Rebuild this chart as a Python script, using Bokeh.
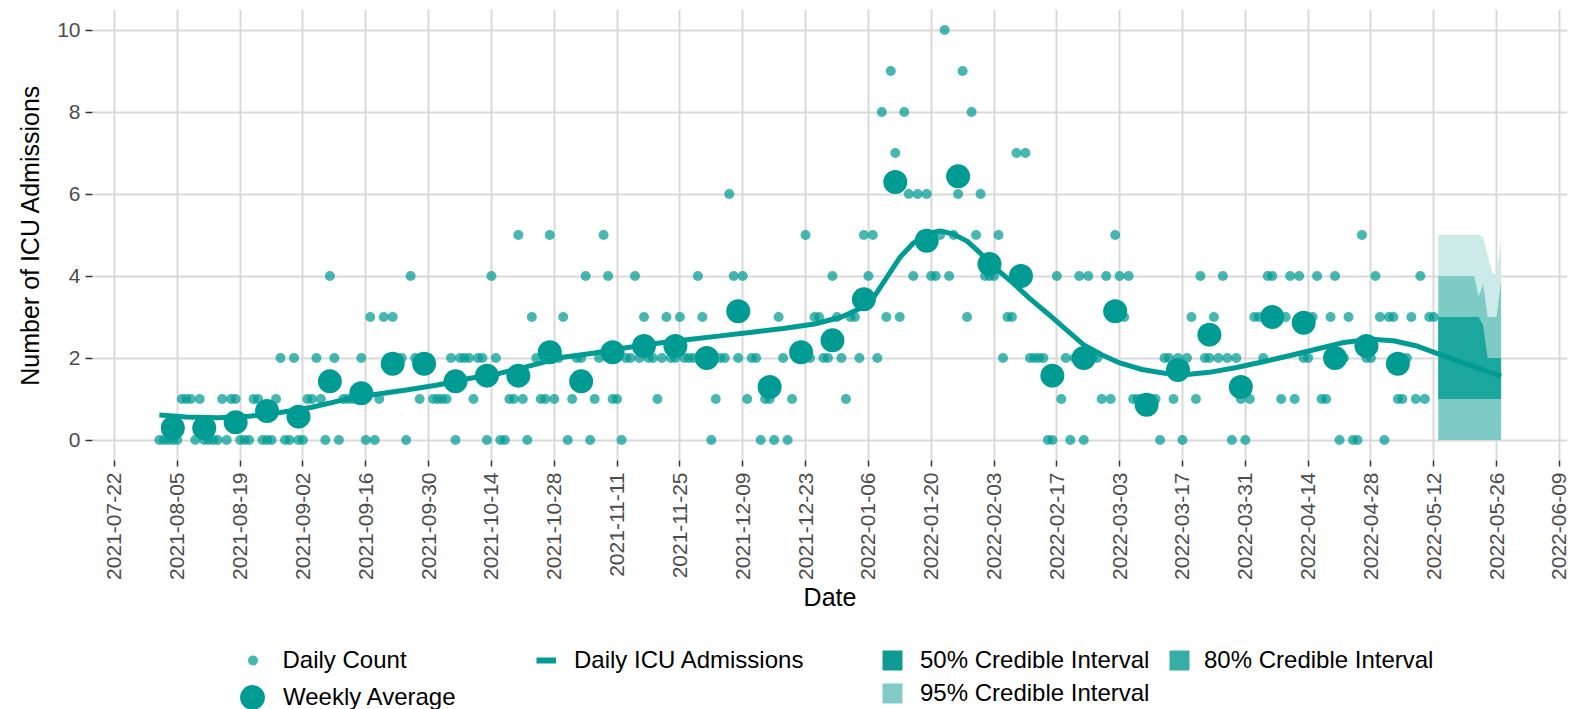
import math
import pandas as pd
from bokeh.plotting import figure
from bokeh.layouts import column
from bokeh.models import (Range1d, FixedTicker, DatetimeTickFormatter, Legend, LegendItem)
from bokeh.embed import file_html
from bokeh.resources import INLINE

# ---------------- data ----------------
daily_start = "2021-08-01"
daily_counts = [
    0, 0, 0, 0, 0, 1, 1,
    1, 0, 1, 0, 0, 0, 0,
    1, 0, 1, 1, 0, 0, 0,
    1, 1, 0, 0, 0, 1, 2,
    0, 0, 2, 0, 0, 1, 1,
    2, 1, 0, 4, 2, 0, 1,
    1, 1, 1, 2, 0, 3, 0,
    1, 3, 2, 3, 2, 2, 0,
    4, 2, 1, 2, 2, 1, 1,
    1, 1, 2, 0, 2, 2, 2,
    1, 2, 2, 0, 4, 2, 0,
    0, 1, 1, 5, 1, 0, 3,
    2, 1, 1, 5, 1, 2, 3,
    0, 1, 2, 2, 4, 0, 1,
    2, 5, 4, 1, 1, 0, 2,
    2, 4, 2, 3, 2, 2, 1,
    2, 3, 2, 2, 3, 2, 2,
    2, 4, 3, 2, 0, 1, 2,
    2, 6, 4, 2, 4, 1, 2,
    2, 0, 1, 1, 0, 3, 2,
    0, 1, 2, 2, 5, 2, 3,
    3, 2, 2, 4, 3, 2, 1,
    3, 3, 2, 5, 4, 5, 2,
    8, 3, 9, 7, 3, 8, 6,
    4, 6, 5, 6, 4, 4, 5,
    10, 4, 5, 6, 9, 3, 8,
    5, 6, 4, 4, 4, 5, 2,
    3, 3, 7, 4, 7, 2, 2,
    2, 2, 0, 0, 4, 1, 2,
    0, 2, 4, 0, 4, 2, 2,
    1, 4, 1, 5, 4, 3, 4,
    1, 1, 1, 1, 1, 1, 0,
    2, 2, 1, 2, 0, 2, 3,
    1, 4, 2, 2, 3, 2, 4,
    2, 0, 2, 1, 0, 1, 3,
    3, 2, 4, 4, 3, 1, 3,
    4, 1, 4, 2, 2, 3, 4,
    1, 1, 3, 4, 0, 2, 3,
    0, 0, 5, 2, 2, 4, 3,
    0, 3, 3, 1, 1, 2, 3,
    1, 4, 1, 3, 3,
]

weekly_start = "2021-08-04"
weekly_avg = [0.29, 0.29, 0.43, 0.71, 0.57, 1.43, 1.14, 1.86, 1.86, 1.43,
              1.57, 1.57, 2.14, 1.43, 2.14, 2.29, 2.29, 2.00, 3.14, 1.29,
              2.14, 2.43, 3.43, 6.29, 4.86, 6.43, 4.29, 4.00, 1.57, 2.00,
              3.14, 0.86, 1.71, 2.57, 1.29, 3.00, 2.86, 2.00, 2.29, 1.86]

trend_dates = ["2021-08-01", "2021-08-07", "2021-08-14", "2021-08-21", "2021-08-28",
               "2021-09-04", "2021-09-11", "2021-09-18", "2021-09-25", "2021-10-02",
               "2021-10-09", "2021-10-16", "2021-10-23", "2021-10-30", "2021-11-06",
               "2021-11-13", "2021-11-20", "2021-11-27", "2021-12-04", "2021-12-11",
               "2021-12-18", "2021-12-25", "2021-12-31", "2022-01-04", "2022-01-07",
               "2022-01-10", "2022-01-13", "2022-01-16", "2022-01-19", "2022-01-22",
               "2022-01-25", "2022-01-28", "2022-01-31", "2022-02-03", "2022-02-07",
               "2022-02-11", "2022-02-15", "2022-02-19", "2022-02-23", "2022-02-27",
               "2022-03-03", "2022-03-08", "2022-03-13", "2022-03-18", "2022-03-23",
               "2022-03-29", "2022-04-04", "2022-04-10", "2022-04-16", "2022-04-22",
               "2022-04-28", "2022-05-03", "2022-05-08", "2022-05-13", "2022-05-18",
               "2022-05-22", "2022-05-27"]
trend_values = [0.61, 0.56, 0.54, 0.58, 0.67,
                0.80, 0.98, 1.11, 1.22, 1.34,
                1.50, 1.63, 1.82, 2.02, 2.12,
                2.25, 2.36, 2.45, 2.54, 2.63,
                2.72, 2.83, 3.00, 3.20, 3.45,
                3.95, 4.45, 4.80, 5.03, 5.10,
                5.02, 4.85, 4.55, 4.22, 3.85,
                3.45, 3.08, 2.70, 2.32, 2.08,
                1.88, 1.72, 1.63, 1.60, 1.65,
                1.77, 1.91, 2.06, 2.22, 2.38,
                2.46, 2.42, 2.30, 2.10, 1.90,
                1.75, 1.55]

band_dates = ["2022-05-13", "2022-05-14", "2022-05-15", "2022-05-16", "2022-05-17",
              "2022-05-18", "2022-05-19", "2022-05-20", "2022-05-21", "2022-05-22",
              "2022-05-23", "2022-05-24", "2022-05-25", "2022-05-26", "2022-05-27"]
lower95 = [0, 0, 0, 0, 0, 0, 0, 0, 0, 0, 0, 0, 0, 0, 0]
upper95 = [5, 5, 5, 5, 5, 5, 5, 5, 5, 5, 4.95, 4.5, 4.1, 4.0, 4.9]
lower80 = [0, 0, 0, 0, 0, 0, 0, 0, 0, 0, 0, 0, 0, 0, 0]
upper80 = [4, 4, 4, 4, 4, 4, 4, 4, 4, 3.5, 3.8, 3.0, 3.0, 3.0, 3.9]
lower50 = [1, 1, 1, 1, 1, 1, 1, 1, 1, 1, 1, 1, 1, 1, 1]
upper50 = [3, 3, 3, 3, 3, 3, 3, 3, 3, 3, 2.8, 2.0, 2.0, 2.0, 2.0]

x_tick_labels = ["2021-07-22", "2021-08-05", "2021-08-19", "2021-09-02", "2021-09-16",
                 "2021-09-30", "2021-10-14", "2021-10-28", "2021-11-11", "2021-11-25",
                 "2021-12-09", "2021-12-23", "2022-01-06", "2022-01-20", "2022-02-03",
                 "2022-02-17", "2022-03-03", "2022-03-17", "2022-03-31", "2022-04-14",
                 "2022-04-28", "2022-05-12", "2022-05-26", "2022-06-09"]
y_ticks = [0, 2, 4, 6, 8, 10]

legend_labels = ["Daily Count", "Weekly Average", "Daily ICU Admissions",
                 "50% Credible Interval", "80% Credible Interval", "95% Credible Interval"]

# ---------------- styling ----------------
TEAL = "#009B93"
FONT = "Liberation Sans"
C95, C80, C50 = "#CCEAE8", "#7ECBC6", "#1BA69E"
K95, K80, K50 = "#80CBC6", "#37ADA6", "#0E9A91"

daily_dates = pd.date_range(daily_start, periods=len(daily_counts), freq="D")
weekly_dates = pd.date_range(weekly_start, periods=len(weekly_avg), freq="7D")
trend_x = pd.to_datetime(trend_dates)
band_x = pd.to_datetime(band_dates)

x0 = pd.Timestamp("2021-07-22") - pd.Timedelta(days=4.9)
x1 = pd.Timestamp("2021-07-22") + pd.Timedelta(days=323.8)

W = 1577
H_MAIN = 625
H_LEG = 84
BORDER_L = 92
BORDER_R = 10

p = figure(width=W, height=H_MAIN, x_axis_type="datetime",
           x_range=Range1d(x0, x1), y_range=Range1d(-0.5, 10.5),
           output_backend="svg", toolbar_location=None,
           min_border_left=BORDER_L, min_border_right=BORDER_R, min_border_top=9,
           min_border_bottom=165)
p.outline_line_color = None
p.background_fill_color = "white"
p.border_fill_color = "white"

# credible interval bands (nested)
p.varea(x=band_x, y1=lower95, y2=upper95, fill_color=C95, fill_alpha=1)
p.varea(x=band_x, y1=lower80, y2=upper80, fill_color=C80, fill_alpha=1)
p.varea(x=band_x, y1=lower50, y2=upper50, fill_color=C50, fill_alpha=1)

p.scatter(daily_dates, daily_counts, size=10, marker="circle",
          fill_color=TEAL, fill_alpha=0.72, line_color=None)
p.scatter(weekly_dates, weekly_avg, size=24, marker="circle",
          fill_color=TEAL, fill_alpha=1, line_color=None)
p.line(trend_x, trend_values, line_color=TEAL, line_width=5)

# axes
tick_ms = [pd.Timestamp(t).value // 10**6 for t in x_tick_labels]
xt = FixedTicker(ticks=tick_ms)
yt = FixedTicker(ticks=y_ticks)
p.xaxis.ticker = xt
p.yaxis.ticker = yt
p.xgrid.ticker = xt
p.ygrid.ticker = yt
fmt = "%Y-%m-%d"
p.xaxis.formatter = DatetimeTickFormatter(
    microseconds=fmt, milliseconds=fmt, seconds=fmt, minsec=fmt, minutes=fmt,
    hourmin=fmt, hours=fmt, days=fmt, months=fmt, years=fmt,
    strip_leading_zeros=False)
p.xaxis.major_label_orientation = math.pi / 2

for ax in (p.xaxis, p.yaxis):
    ax.axis_line_color = None
    ax.major_tick_in = 0
    ax.major_tick_line_color = "#333333"
    ax.major_tick_line_width = 1.5
    ax.minor_tick_line_color = None
    ax.major_label_text_font = FONT
    ax.major_label_text_font_size = "21px"
    ax.major_label_text_color = "#4D4D4D"
    ax.axis_label_text_font = FONT
    ax.axis_label_text_font_size = "25px"
    ax.axis_label_text_font_style = "normal"
    ax.axis_label_text_color = "black"

p.xaxis.major_tick_out = 6
p.xaxis.major_label_standoff = 6
p.xaxis.axis_label = "Date"
p.xaxis.axis_label_standoff = 0
p.yaxis.major_tick_out = 7
p.yaxis.major_label_standoff = 5
p.yaxis.axis_label = "Number of ICU Admissions"
p.yaxis.axis_label_standoff = 10

p.xgrid.grid_line_color = "#D9D9D9"
p.ygrid.grid_line_color = "#D9D9D9"
p.xgrid.grid_line_width = 2
p.ygrid.grid_line_width = 2

# ---------------- legend strip (separate figure) ----------------
q = figure(width=W, height=H_LEG, x_range=Range1d(0, 1), y_range=Range1d(0, 1),
           output_backend="svg", toolbar_location=None,
           x_axis_location=None, y_axis_location=None,
           min_border_left=BORDER_L, min_border_right=BORDER_R,
           min_border_top=0, min_border_bottom=0)
q.outline_line_color = None
q.xgrid.visible = False
q.ygrid.visible = False
q.background_fill_color = "white"
q.border_fill_color = "white"

NAN = [float("nan")]
k_daily = q.scatter(x=NAN, y=NAN, marker="circle", fill_color=TEAL, fill_alpha=0.72, line_color=None)
k_week = q.scatter(x=NAN, y=NAN, marker="circle", fill_color=TEAL, fill_alpha=1, line_color=None)
k_line = q.line(x=NAN, y=NAN, line_color=TEAL, line_width=6)
k50 = q.scatter(x=NAN, y=NAN, marker="square", fill_color=K50, line_color=None)
k80 = q.scatter(x=NAN, y=NAN, marker="square", fill_color=K80, line_color=None)
k95 = q.scatter(x=NAN, y=NAN, marker="square", fill_color=K95, line_color=None)

PAGE_BOTTOM = H_MAIN + H_LEG  # page y of the strip's frame bottom


def add_legend(renderer, label, cx, cy, gw, gh, text_x):
    """cx, cy, text_x given in page pixels."""
    vx = cx - gw / 2 - BORDER_L
    vy = PAGE_BOTTOM - (cy + gh / 2)
    leg = Legend(items=[LegendItem(label=label, renderers=[renderer])],
                 location=(vx, vy), orientation="vertical",
                 glyph_width=gw, glyph_height=gh,
                 label_standoff=max(0, int(round(text_x - (cx + gw / 2)))),
                 padding=0, margin=0, spacing=0,
                 border_line_color=None, background_fill_alpha=0,
                 label_text_font=FONT, label_text_font_size="24px",
                 label_text_color="black")
    q.add_layout(leg, "center")


add_legend(k_daily, legend_labels[0], 252, 660, 25, 30, 283)
add_legend(k_week, legend_labels[1], 252, 697, 62, 62, 283)
add_legend(k_line, legend_labels[2], 546, 660, 20, 30, 574)
add_legend(k50, legend_labels[3], 892, 660, 50, 50, 920)
add_legend(k80, legend_labels[4], 1179, 660, 50, 50, 1204)
add_legend(k95, legend_labels[5], 892, 693, 50, 50, 920)

layout = column(p, q, spacing=0)
open("out.html", "w").write(file_html(layout, INLINE))
